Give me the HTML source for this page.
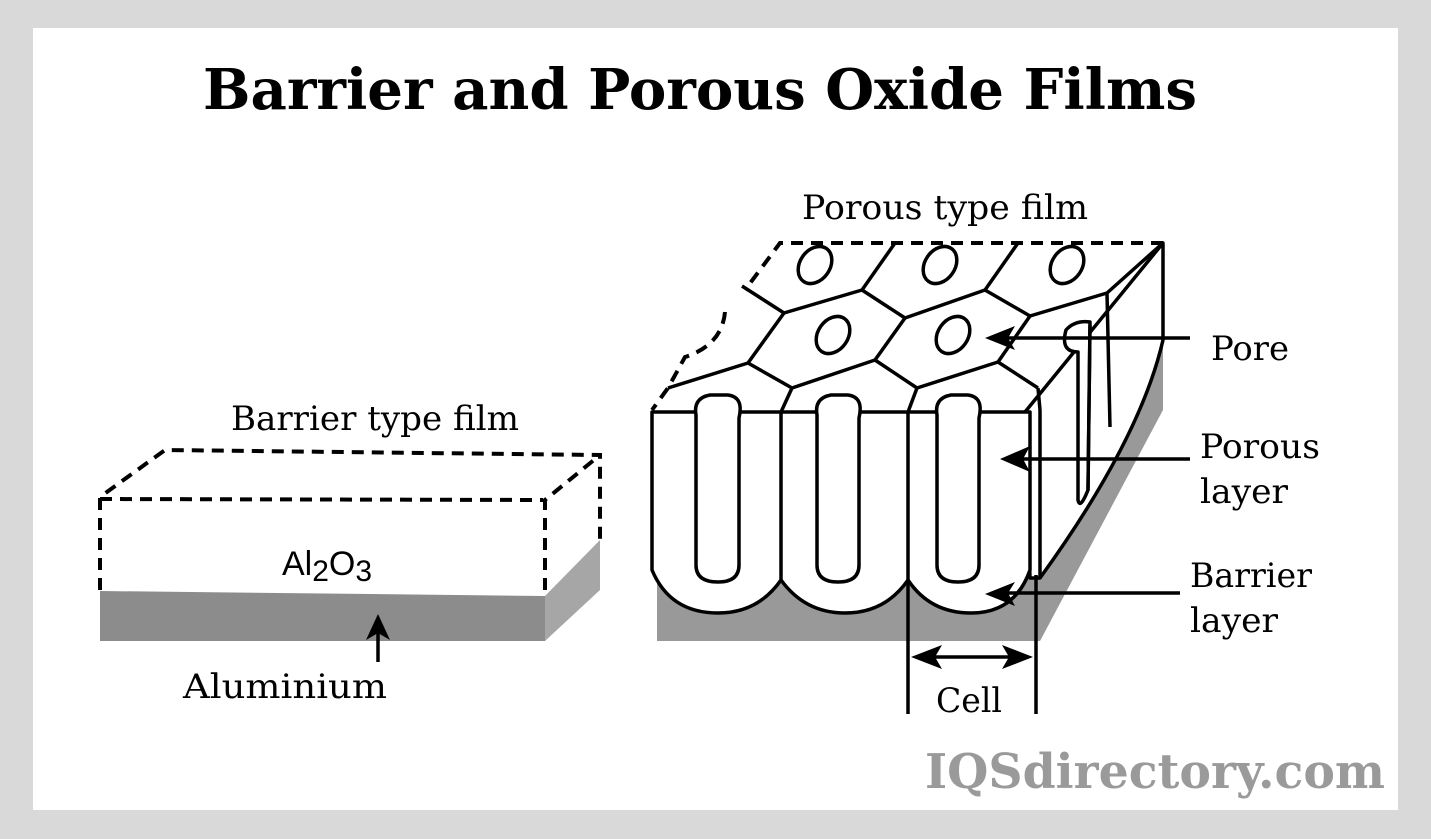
<!DOCTYPE html>
<html><head><meta charset="utf-8"><style>
html,body{margin:0;padding:0;background:#d9d9d9;}
svg{display:block;}
</style></head><body>
<svg width="1431" height="839" viewBox="0 0 1431 839" xmlns="http://www.w3.org/2000/svg">
<rect x="0" y="0" width="1431" height="839" fill="#d9d9d9"/>
<rect x="33" y="28" width="1365" height="782" fill="#fff"/>
<text x="700" y="109" font-family="DejaVu Serif, serif" font-weight="bold" font-size="56" text-anchor="middle" textLength="994" lengthAdjust="spacingAndGlyphs">Barrier and Porous Oxide Films</text>

<g font-family="DejaVu Serif, Liberation Serif, serif" font-size="34" fill="#000">
<text x="945" y="219" text-anchor="middle" textLength="286" lengthAdjust="spacingAndGlyphs">Porous type film</text>
<text x="375" y="430" text-anchor="middle" textLength="288" lengthAdjust="spacingAndGlyphs">Barrier type film</text>
<text x="1250" y="360" text-anchor="middle" textLength="78" lengthAdjust="spacingAndGlyphs">Pore</text>
<text x="1200" y="458" textLength="120" lengthAdjust="spacingAndGlyphs">Porous</text>
<text x="1200" y="503" textLength="88" lengthAdjust="spacingAndGlyphs">layer</text>
<text x="1190" y="587" textLength="122" lengthAdjust="spacingAndGlyphs">Barrier</text>
<text x="1190" y="632" textLength="88" lengthAdjust="spacingAndGlyphs">layer</text>
<text x="969" y="712" text-anchor="middle" textLength="66" lengthAdjust="spacingAndGlyphs">Cell</text>
<text x="183" y="698" textLength="204" lengthAdjust="spacingAndGlyphs">Aluminium</text>
<text x="282" y="575" font-family="Liberation Sans, sans-serif">Al<tspan font-size="30" dy="6">2</tspan><tspan dy="-6">O</tspan><tspan font-size="30" dy="6">3</tspan></text>
</g>
<text x="1385" y="788" text-anchor="end" font-family="DejaVu Serif, serif" font-weight="bold" font-size="48" fill="#9a9a9a" textLength="460" lengthAdjust="spacingAndGlyphs">IQSdirectory.com</text>

<!-- Barrier film -->
<polygon points="100,591 545,596 545,641 100,641" fill="#8c8c8c"/>
<polygon points="545,596 600,540 600,590 545,641" fill="#a6a6a6"/>
<g stroke="#000" stroke-width="4" stroke-dasharray="12,8" fill="none">
<polyline points="100,590 100,497 165,450 600,455 600,540"/>
<line x1="100" y1="499" x2="543" y2="500"/>
<polyline points="545,590 545,500 600,455"/>
</g>
<line x1="378" y1="662" x2="378" y2="630" stroke="#000" stroke-width="3.5"/>
<polygon points="378,614 366,640 378,633 390,640" fill="#000"/>

<!-- Porous film -->
<polygon points="657,555 1040,555 1163,340 1163,410 1040,641 657,641" fill="#999"/>
<path d="M652,412 L668,388 L745,290 L780,243 L1163,243 L1025,412 Z" fill="#fff"/>
<g stroke="#000" stroke-width="3.5" fill="#fff" stroke-linejoin="round">
<!-- right side face -->
<path d="M1025,412 L1163,243 L1163,340 Q1140,440 1040,578 L1030,578 Z"/>
<!-- front face U's -->
<path d="M652,412 L1030,412 L1030,570 Q1015,613 971,613 Q930,613 908,580 Q885,613 845,613 Q805,613 781,580 Q758,613 718,613 Q670,613 652,570 Z"/>
<line x1="781" y1="412" x2="781" y2="580"/>
<line x1="908" y1="412" x2="908" y2="580"/>
<line x1="1040" y1="410" x2="1040" y2="578"/>
</g>
<g stroke="#000" stroke-width="3.5" fill="#fff" stroke-linejoin="round">
<path d="M696,415 Q693,398 710,395 L728,395 Q744,397 739,418 L739,565 Q739,582 718,582 Q696,582 696,565 Z"/>
<path d="M817,415 Q814,398 831,395 L848,395 Q864,397 859,418 L859,565 Q859,582 838,582 Q817,582 817,565 Z"/>
<path d="M937,415 Q934,398 951,395 L968,395 Q984,397 979,418 L979,565 Q979,582 958,582 Q937,582 937,565 Z"/>
<path d="M1078,352 Q1060,352 1066,330 Q1075,320 1090,322 L1088,490 Q1080,510 1078,500 Z" />
</g>
<g stroke="#000" stroke-width="3.5" fill="none" stroke-linejoin="round">
<polyline points="1038,388 1040,410"/>
<polyline points="668,388 748,363 784,313 862,290 905,318 985,290 1030,316 1107,293 1163,243"/>
<polyline points="748,363 792,388 875,360 917,388 998,362 1038,388"/>
<line x1="792" y1="388" x2="781" y2="412"/>
<line x1="917" y1="388" x2="908" y2="412"/>
<line x1="875" y1="360" x2="905" y2="318"/>
<line x1="998" y1="362" x2="1030" y2="316"/>
<line x1="784" y1="313" x2="742" y2="286"/>
<line x1="862" y1="290" x2="895" y2="243"/>
<line x1="985" y1="290" x2="1018" y2="243"/>
<line x1="1107" y1="293" x2="1110" y2="427"/>
<line x1="1090" y1="325" x2="1088" y2="490"/>
<ellipse cx="815" cy="265" rx="15" ry="20" transform="rotate(35 815 265)"/>
<ellipse cx="940" cy="265" rx="15" ry="20" transform="rotate(35 940 265)"/>
<ellipse cx="1067" cy="265" rx="15" ry="20" transform="rotate(35 1067 265)"/>
<ellipse cx="833" cy="335" rx="15" ry="20" transform="rotate(35 833 335)"/>
<ellipse cx="953" cy="335" rx="15" ry="20" transform="rotate(35 953 335)"/>
</g>
<path d="M1163,243 L780,243 L745,290 M725,312 Q722,345 685,357 L668,388 L652,410" stroke="#000" stroke-width="4" stroke-dasharray="12,8" fill="none"/>

<!-- arrows -->
<g stroke="#000" stroke-width="3.5">
<line x1="1190" y1="338" x2="1000" y2="338"/>
<line x1="1190" y1="459" x2="1015" y2="459"/>
<line x1="1180" y1="593" x2="1000" y2="593"/>
<line x1="908" y1="580" x2="908" y2="714"/>
<line x1="1036" y1="575" x2="1036" y2="714"/>
<line x1="925" y1="657" x2="1020" y2="657"/>
</g>
<g fill="#000">
<polygon points="985,338 1015,326 1008,338 1015,350"/>
<polygon points="1000,459 1030,446 1023,459 1030,472"/>
<polygon points="985,594 1015,582 1008,593 1015,606"/>
<polygon points="911,657 942,645 935,657 942,669"/>
<polygon points="1033,657 1002,645 1009,657 1002,669"/>
</g>
</svg>
</body></html>
